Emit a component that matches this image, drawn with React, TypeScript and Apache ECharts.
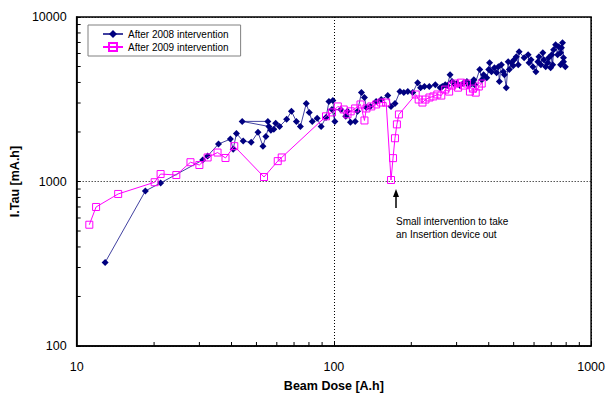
import React, { useEffect, useRef } from "react";
import * as echarts from "echarts";

const seriesNames = ["After 2008 intervention", "After 2009 intervention"];

const after2008: number[][] = [
  [12.9, 322], [18.5, 876], [21.2, 980], [30.9, 1350], [32.3, 1430], [35.6, 1690], [39.6, 1810], [40.6, 1570],
  [41.8, 1960], [44.4, 1760], [47.7, 1730], [50.7, 1990], [53.0, 1640], [54.4, 1880], [55.9, 2160], [44.0, 2320],
  [55.4, 2320], [56.9, 2050], [58.4, 2080], [59.4, 2260], [61.5, 2160], [65.5, 2390], [68.4, 2670], [71.5, 2320],
  [74.1, 2160], [78.1, 2980], [80.2, 2630], [82.4, 2320], [86.1, 2420], [89.2, 2160], [93.2, 2450], [95.7, 3060],
  [99.1, 3110], [100.9, 2320], [98.3, 2740], [106.4, 2740], [111.2, 2490], [113, 2670], [116, 2290], [121, 2320],
  [123.6, 2670], [128, 3470], [131.5, 3240], [133.8, 2820], [138.6, 2860], [146, 3060], [152.7, 3150], [162, 3330],
  [166.8, 2860], [172.8, 2980], [180.6, 3520], [187, 3470], [193.8, 3520], [202.6, 3470], [211.7, 3990], [217.3, 3720],
  [225, 3780], [235, 3780], [248, 3880], [259, 3720], [264, 3780], [271, 3880], [276, 3830], [283, 4460], [288, 4050],
  [293, 3940], [301, 3940], [309, 3830], [320, 3990], [329, 4050], [335, 3830], [344, 3940], [350, 4160], [353, 3880],
  [369, 4790], [376, 4160], [382, 4460], [393, 4280], [400, 4790], [403, 5270], [410, 4650], [421, 4920], [429, 4590],
  [436, 4990], [440, 4050], [448, 5130], [456, 4650], [460, 4460], [468, 3720], [476, 5350], [481, 4790], [490, 5270],
  [498, 5060], [502, 5500], [512, 5730], [521, 5130], [525, 6150], [549, 5660], [569, 5890], [574, 5270], [584, 5500],
  [594, 4990], [610, 4650], [621, 5350], [627, 5730], [638, 5130], [649, 6060], [655, 5500], [666, 4990], [678, 5270],
  [684, 5660], [696, 4920], [703, 5890], [709, 5130], [715, 6320], [728, 6770], [741, 5890], [748, 6590], [761, 6060],
  [767, 6500], [774, 6970], [781, 5660], [761, 5130], [781, 5350], [794, 4990],
];

const after2009: number[][] = [
  [11.2, 546], [11.9, 700], [14.5, 840], [20.1, 990], [21.2, 1110], [24.4, 1095], [27.7, 1310], [30.0, 1260],
  [32.3, 1400], [35.3, 1500], [37.9, 1390], [41.0, 1640], [53.5, 1065], [60.5, 1330], [62.7, 1400], [93.2, 2490],
  [98.3, 2630], [103.6, 2860], [109.2, 2740], [113, 2560], [116.2, 2670], [121, 2780], [126.9, 2940], [131.5, 2350],
  [133.8, 2780], [139.8, 2860], [146, 2940], [152.7, 3020], [159.7, 3020], [166.8, 1021], [169.8, 1387], [172.8, 1832],
  [175.8, 2225], [179, 2557], [208, 3380], [213.6, 3150], [221, 3020], [227, 3150], [235.3, 3240], [243.8, 3290],
  [252.5, 3380], [261.6, 3330], [271, 3620], [280.6, 3520], [288.3, 3830], [296, 3940], [304, 3720], [312, 3990],
  [320.5, 3830], [329, 3940], [338, 3520], [347, 3670], [356, 3470], [366, 3780], [375.6, 3940],
];

const xMinorTicks = [20, 30, 40, 50, 60, 70, 80, 90, 200, 300, 400, 500, 600, 700, 800, 900];
const yMinorTicks = [200, 300, 400, 500, 600, 700, 800, 900, 2000, 3000, 4000, 5000, 6000, 7000, 8000, 9000];

const annotationLines = ["Small intervention to take", "an Insertion device out"];

const FONT = 'Arial, "Liberation Sans", sans-serif';

export default function App() {
  const ref = useRef<HTMLDivElement>(null);
  useEffect(() => {
    document.body.style.margin = "0";
    if (!ref.current) return;
    const chart = echarts.init(ref.current, undefined, { renderer: "svg" });
    chart.setOption({
      animation: false,
      backgroundColor: "#ffffff",
      textStyle: { fontFamily: FONT },
      grid: {
        left: 74, right: 13, top: 17, bottom: 49,
        show: true, borderColor: "#000", borderWidth: 1.5, backgroundColor: "transparent",
      },
      legend: {
        data: seriesNames,
        orient: "vertical",
        left: 88, top: 25,
        itemWidth: 20, itemHeight: 10, itemGap: 3,
        padding: [4, 12, 4, 14],
        borderColor: "#808080", borderWidth: 1, backgroundColor: "#fff",
        textStyle: { fontSize: 10, color: "#000", fontFamily: FONT },
      },
      xAxis: {
        type: "log", logBase: 10, min: 10, max: 1000,
        name: "Beam Dose [A.h]", nameLocation: "middle", nameGap: 33,
        nameTextStyle: { fontSize: 12.5, fontWeight: "bold", color: "#000", fontFamily: FONT },
        axisLine: { show: true, lineStyle: { color: "#000", width: 1.5 } },
        axisTick: { show: true, inside: true, length: 4, lineStyle: { color: "#000", width: 1 } },
        axisLabel: { fontSize: 12.5, color: "#000", margin: 14, fontFamily: FONT, formatter: (v: number) => String(Math.round(v)) },
        splitLine: { show: true, lineStyle: { color: "#000", type: [1, 2], width: 1 } },
      },
      yAxis: {
        type: "log", logBase: 10, min: 100, max: 10000,
        name: "I.Tau [mA.h]", nameLocation: "middle", nameGap: 44,
        nameTextStyle: { fontSize: 12.5, fontWeight: "bold", color: "#000", fontFamily: FONT },
        axisLine: { show: true, lineStyle: { color: "#000", width: 1.5 } },
        axisTick: { show: true, inside: true, length: 4, lineStyle: { color: "#000", width: 1 } },
        axisLabel: { fontSize: 12.5, color: "#000", margin: 10, fontFamily: FONT, formatter: (v: number) => String(Math.round(v)) },
        splitLine: { show: true, lineStyle: { color: "#000", type: [1, 2], width: 1 } },
      },
      series: [
        {
          name: seriesNames[0], type: "line", data: after2008,
          symbol: "diamond", symbolSize: 7, showSymbol: true,
          itemStyle: { color: "#000080" },
          lineStyle: { color: "#000080", width: 1, opacity: 0.75 },
          z: 3,
        },
        {
          name: seriesNames[1], type: "line", data: after2009,
          symbol: "rect", symbolSize: 7, showSymbol: true,
          itemStyle: { color: "rgba(255,255,255,0)", borderColor: "#ff00ff", borderWidth: 1 },
          lineStyle: { color: "#ff00ff", width: 1 },
          z: 4,
        },
        {
          type: "custom", silent: true, z: 5,
          data: xMinorTicks.map((v) => [v, 100]),
          encode: { x: 0, y: 1 },
          renderItem: (params: any, api: any) => {
            const p = api.coord([api.value(0), api.value(1)]);
            return {
              type: "line",
              shape: { x1: p[0], y1: p[1], x2: p[0], y2: p[1] - 4 },
              style: { stroke: "#000", lineWidth: 1 },
            };
          },
        },
        {
          type: "custom", silent: true, z: 5,
          data: yMinorTicks.map((v) => [10, v]),
          encode: { x: 0, y: 1 },
          renderItem: (params: any, api: any) => {
            const p = api.coord([api.value(0), api.value(1)]);
            return {
              type: "line",
              shape: { x1: p[0], y1: p[1], x2: p[0] + 4, y2: p[1] },
              style: { stroke: "#000", lineWidth: 1 },
            };
          },
        },
      ],
      graphic: [
        {
          type: "line", z: 10,
          shape: { x1: 396, y1: 196, x2: 396, y2: 208 },
          style: { stroke: "#000", lineWidth: 1.5 },
        },
        {
          type: "polygon", z: 10,
          shape: { points: [[396, 189], [393, 197], [399, 197]] },
          style: { fill: "#000" },
        },
        {
          type: "text", z: 10, x: 396, y: 214.5,
          style: {
            text: annotationLines.join("\n"),
            fontSize: 10, lineHeight: 13, fill: "#000",
            fontFamily: FONT, align: "left", verticalAlign: "top",
          },
        },
      ],
    });
    return () => chart.dispose();
  }, []);
  return <div ref={ref} style={{ width: 608, height: 397 }} />;
}
